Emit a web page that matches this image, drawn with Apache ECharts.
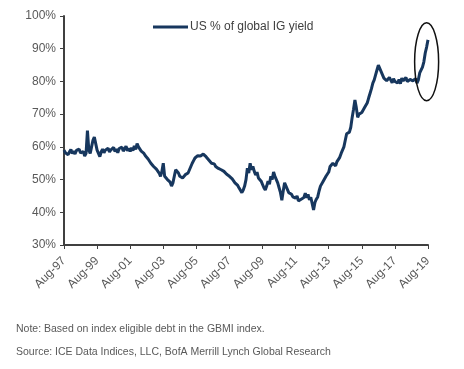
<!DOCTYPE html>
<html>
<head>
<meta charset="utf-8">
<script src="https://cdn.jsdelivr.net/npm/echarts@6/dist/echarts.min.js"></script>
<style>
html,body{margin:0;padding:0;background:#fff;}
#chart{width:464px;height:369px;}
</style>
</head>
<body>
<div id="chart"></div>
<script>
// Monthly observations, Aug-97 .. Aug-19 (US % of global IG yield)
var usShare = [
  59, 58.2, 58.8, 57.6, 58.5, 59.2, 58, 58.7, 57.8, 58.9, 58.3, 59.3,
  58.1, 57.5, 58.6, 57.2, 58, 65, 59, 58, 60, 62, 63, 61,
  59, 58, 57, 58.5, 59.3, 58.2, 59, 58.5, 59.6, 58.4, 59.1, 58.7,
  59.8, 58.6, 59.3, 58.2, 59.5, 58.9, 59.9, 58.7, 59.4, 60.2, 58.8, 59.5,
  58.6, 59.7, 58.9, 60.3, 59.2, 61, 60, 59.5, 58.7, 59, 58, 57.3,
  57, 56.3, 56, 55, 55.6, 54, 54.5, 53.2, 53, 52, 51, 52.5,
  55, 51, 51.5, 50, 49.5, 49.2, 48, 49, 51, 53, 52.5, 52,
  51, 51.3, 50.5, 51, 51.5, 51.8, 52, 53, 54, 55, 55.8, 56.6,
  57, 57.3, 57.6, 57.2, 57.5, 57.8, 57.2, 57, 56.6, 56, 55.5, 55,
  54.5, 54.8, 54, 53.8, 53.4, 53.6, 53, 52.8, 52.5, 52, 51.6, 51.2,
  51, 50.7, 50.2, 49.8, 49, 48.5, 48.2, 47.4, 47, 46, 46.8, 48,
  50, 53.5, 52, 55, 53, 54, 52.5, 51.4, 52.3, 50.5, 50.8, 49.5,
  48.5, 47.5, 46.8, 48, 49.5, 48.6, 51, 50, 52.3, 51, 50, 49,
  47.5, 46, 43.7, 46.5, 49, 48, 47, 46, 46.5, 45.5, 44.7, 45,
  44.3, 45, 43.5, 43, 44, 43.8, 44.5, 45.8, 44.5, 45.5, 43.8, 44.6,
  44.4, 40.7, 43, 44, 44.7, 46.5, 48, 48.5, 49.5, 50, 51, 51.5,
  52.3, 54, 53.5, 55, 54.7, 54.2, 55.5, 56, 56.8, 58, 58.5, 60,
  62, 64, 63.5, 64.5, 66, 69, 71.5, 74.3, 72, 69, 70, 69.5,
  70.5, 71, 72, 72.5, 73.5, 75, 76.4, 77.8, 79.5, 80.5, 82, 83.5,
  85, 84.5, 83, 82.5, 81, 81.5, 80.2, 80.4, 81.2, 80.4, 79.6, 80.8,
  80, 79.4, 79.5, 80.6, 79.3, 81, 80.2, 79.6, 81.2, 80, 79.5, 80.6,
  81, 80.2, 79.7, 80.8, 79.5, 80.5, 82.6, 83.2, 84.4, 86, 88.7, 90.5,
  92.7
];
var monthNames = ['Jan','Feb','Mar','Apr','May','Jun','Jul','Aug','Sep','Oct','Nov','Dec'];
var startYear = 1997, startMonth = 7; // Aug
var tickLabels = ['Aug-97','Aug-99','Aug-01','Aug-03','Aug-05','Aug-07','Aug-09','Aug-11','Aug-13','Aug-15','Aug-17','Aug-19'];
var yTicks = [30, 40, 50, 60, 70, 80, 90, 100];
var seriesName = 'US % of global IG yield';
var noteText = 'Note: Based on index eligible debt in the GBMI index.';
var sourceText = 'Source: ICE Data Indices, LLC, BofA Merrill Lynch Global Research';

var categories = [];
for (var i = 0; i < usShare.length; i++) {
  var mi = startMonth + i;
  var yr = startYear + Math.floor(mi / 12);
  categories.push(monthNames[mi % 12] + '-' + String(yr % 100).padStart(2, '0'));
}

var chart = echarts.init(document.getElementById('chart'), null, {renderer: 'canvas'});
var font = '"Liberation Sans", Arial, sans-serif';
var notes = [
  {type: 'text', left: 16, top: 324, style: {text: noteText, fontFamily: font, fontSize: 10.5, fill: '#595959'}},
  {type: 'text', left: 16, top: 347, style: {text: sourceText, fontFamily: font, fontSize: 10.5, fill: '#595959'}}
];
chart.setOption({
  animation: false,
  backgroundColor: '#ffffff',
  grid: {left: 64, right: 36, top: 16, bottom: 124, containLabel: false},
  legend: {
    data: [{name: seriesName, icon: 'rect'}],
    left: 148, top: 16,
    itemWidth: 35, itemHeight: 3, itemGap: 4,
    textStyle: {fontFamily: font, fontSize: 12, color: '#404040', padding: [0,0,0,-3]}
  },
  xAxis: {
    type: 'category',
    data: categories,
    boundaryGap: false,
    axisLine: {lineStyle: {color: '#404040', width: 2}},
    axisTick: {show: true, interval: 23, length: 4, lineStyle: {color: '#404040', width: 1}},
    axisLabel: {
      interval: 23, rotate: 45, margin: 14,
      fontFamily: font, fontSize: 12, color: '#595959',
      formatter: function (v) { return tickLabels.indexOf(v) >= 0 ? v : ''; }
    },
    splitLine: {show: false}
  },
  yAxis: {
    type: 'value',
    min: yTicks[0], max: yTicks[yTicks.length - 1], interval: 10,
    axisLine: {show: true, lineStyle: {color: '#404040', width: 2}},
    axisTick: {show: true, length: 4, lineStyle: {color: '#404040', width: 1}},
    axisLabel: {fontFamily: font, fontSize: 12, color: '#595959', margin: 8, formatter: '{value}%'},
    splitLine: {show: false}
  },
  series: [{
    name: seriesName,
    type: 'line',
    data: usShare,
    symbol: 'none',
    lineStyle: {color: '#17375e', width: 3},
    itemStyle: {color: '#17375e'}
  }],
  graphic: notes
});

// ellipse annotation around the latest surge, anchored to the data scale
var c = chart.convertToPixel({xAxisIndex: 0, yAxisIndex: 0}, [categories.length - 2, 86]);
chart.setOption({
  graphic: notes.concat([
    {type: 'ellipse', shape: {cx: c[0], cy: c[1], rx: 12, ry: 39}, style: {fill: 'none', stroke: '#111', lineWidth: 1.5}, z: 10}
  ])
});
</script>
</body>
</html>
